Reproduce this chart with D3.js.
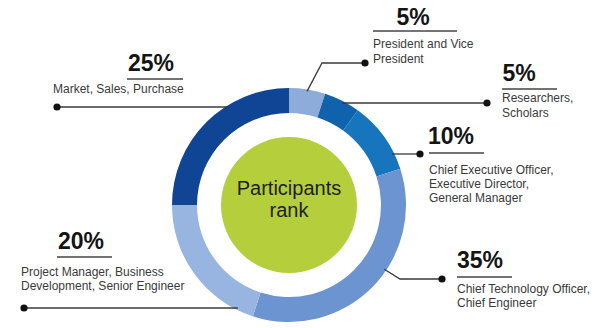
<!DOCTYPE html>
<html>
<head>
<meta charset="utf-8">
<script src="https://cdn.jsdelivr.net/npm/d3@7"></script>
<style>
  html, body { margin: 0; padding: 0; background: #fff; }
  svg { display: block; font-family: "Liberation Sans", Arial, Helvetica, sans-serif; }
</style>
</head>
<body>
<svg id="chart" width="600" height="328"></svg>
<script>
// ---- Data ----
const categories = [
  "President and Vice President",
  "Researchers, Scholars",
  "Chief Executive Officer, Executive Director, General Manager",
  "Chief Technology Officer, Chief Engineer",
  "Project Manager, Business Development, Senior Engineer",
  "Market, Sales, Purchase"
];
const values = [5, 5, 10, 35, 20, 25];
const percentLabels = ["5%", "5%", "10%", "35%", "20%", "25%"];
const labelLines = [
  ["President and Vice", "President"],
  ["Researchers,", "Scholars"],
  ["Chief Executive Officer,", "Executive Director,", "General Manager"],
  ["Chief Technology Officer,", "Chief Engineer"],
  ["Project Manager, Business", "Development, Senior Engineer"],
  ["Market, Sales, Purchase"]
];
const centerTitle = ["Participants", "rank"];

// ---- Styles / layout (not data) ----
const colors = ["#8eacd9", "#1062ad", "#1675bd", "#6c94d0", "#97b5e0", "#0f4594"];
const cx = 289, cy = 205, R = 117, r = 92, greenR = 68;

// Annotation layout per slice: text anchor position, underline, leader line path
const layout = [
  { px: 413, py: 25, ux1: 373, ux2: 457, uy: 31, tx: 373, ty: 48, lh: 15,
    dot: [365, 63], path: [[365, 63], [322, 63]], ringAngle: 9 },
  { px: 519, py: 81, ux1: 502, ux2: 557, uy: 89, tx: 502, ty: 102, lh: 15,
    dot: [487, 103], path: [[487, 103]], ringY: 103 },
  { px: 451, py: 144, ux1: 429, ux2: 484, uy: 153, tx: 429, ty: 174, lh: 14,
    dot: [420, 154], path: [[420, 154]], ringY: 154 },
  { px: 480, py: 268, ux1: 457, ux2: 512, uy: 277, tx: 457, ty: 293, lh: 14,
    dot: [442, 279], path: [[442, 279], [400, 279]], ringAngle: 124 },
  { px: 81, py: 249, ux1: 57, ux2: 112, uy: 257, tx: 21, ty: 276, lh: 14,
    dot: [24, 308], path: [[24, 308]], ringY: 308 },
  { px: 151, py: 71, ux1: 127, ux2: 183, uy: 79, tx: 53, ty: 93, lh: 14,
    dot: [57, 107], path: [[57, 107]], ringY: 107 }
];

const svg = d3.select("#chart");

// ---- Donut ----
const pie = d3.pie().sort(null).value(d => d)(values);
const arc = d3.arc().innerRadius(r).outerRadius(R);

const g = svg.append("g").attr("transform", `translate(${cx},${cy})`);
g.selectAll("path.slice")
  .data(pie)
  .join("path")
  .attr("class", "slice")
  .attr("d", arc)
  .attr("fill", (d, i) => colors[i]);

g.append("circle").attr("r", greenR).attr("fill", "#b4ce3c");

g.append("text")
  .attr("text-anchor", "middle")
  .attr("font-size", 20)
  .attr("fill", "#1e1e1e")
  .selectAll("tspan")
  .data(centerTitle)
  .join("tspan")
  .attr("x", 0)
  .attr("y", (d, i) => -10 + i * 22)
  .text(d => d);

// ---- Leader lines ----
const ann = svg.append("g");
layout.forEach((L, i) => {
  const pts = L.path.slice();
  let end;
  if (L.ringAngle !== undefined) {
    const a = (L.ringAngle - 90) * Math.PI / 180;
    end = [cx + (R - 2) * Math.cos(a), cy + (R - 2) * Math.sin(a)];
  } else {
    const dy = L.ringY - cy;
    const dx = Math.sqrt(Math.max(0, (R - 2) * (R - 2) - dy * dy));
    end = [L.dot[0] < cx ? cx - dx : cx + dx, L.ringY];
  }
  pts.push(end);
  ann.append("path")
    .attr("d", d3.line()(pts))
    .attr("fill", "none")
    .attr("stroke", "#3a3a3a")
    .attr("stroke-width", 1.3);
  ann.append("circle")
    .attr("cx", L.dot[0]).attr("cy", L.dot[1]).attr("r", 3.6)
    .attr("fill", "#111");

  ann.append("text")
    .attr("x", L.px).attr("y", L.py)
    .attr("text-anchor", "middle")
    .attr("font-size", 23)
    .attr("font-weight", "bold")
    .attr("fill", "#141414")
    .text(percentLabels[i]);
  ann.append("line")
    .attr("x1", L.ux1).attr("x2", L.ux2)
    .attr("y1", L.uy).attr("y2", L.uy)
    .attr("stroke", "#444").attr("stroke-width", 1.3);
  ann.append("text")
    .attr("font-size", 12)
    .attr("fill", "#3a3a3a")
    .selectAll("tspan")
    .data(labelLines[i])
    .join("tspan")
    .attr("x", L.tx)
    .attr("y", (d, j) => L.ty + j * L.lh)
    .text(d => d);
});
</script>
</body>
</html>
